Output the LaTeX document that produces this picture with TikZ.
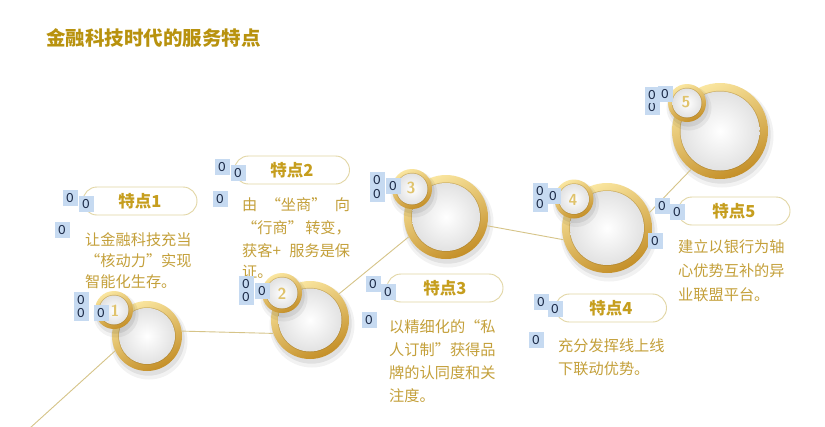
\documentclass[tikz,border=0pt]{standalone}
\usepackage{fontspec}
\newfontfamily\cjk{Noto Sans CJK SC}
\newfontfamily\zfont{Carlito}
\usetikzlibrary{calc}
\definecolor{titlegold}{HTML}{B8920E}
\definecolor{bodygold}{HTML}{C4A03A}
\definecolor{pillgold}{HTML}{C69E1E}
\definecolor{pillline}{HTML}{E2D6A4}
\definecolor{ringlight}{HTML}{FAE6A0}
\definecolor{ringmid}{HTML}{E8C24E}
\definecolor{ringdark}{HTML}{C48F28}
\definecolor{innergray}{HTML}{E2E2E2}
\definecolor{linegold}{HTML}{D6C488}
\definecolor{numgold}{HTML}{E0C36C}
\definecolor{zblue}{HTML}{C6DAF1}
\definecolor{zink}{HTML}{1C2B48}
\tikzset{
  titletxt/.style={anchor=west,inner sep=0,text=titlegold,font=\cjk\bfseries\fontsize{19.5}{20}\selectfont},
  bodytxt/.style={anchor=west,inner sep=0,text=bodygold,font=\cjk\fontsize{15.2}{16}\selectfont},
  pill/.style={draw=pillline,fill=white,line width=0.9pt,rounded corners=14pt,minimum height=28pt,inner sep=0,text=pillgold,font=\cjk\bfseries\fontsize{16.5}{17}\selectfont},
  conn/.style={draw=linegold,line width=0.9pt},
  numtxt/.style={inner sep=0,text=numgold,font=\sffamily\bfseries\fontsize{16}{16}\selectfont},
  zbox/.style={fill=zblue,inner sep=0,minimum width=15pt,minimum height=16pt,text=zink,font=\zfont\fontsize{14}{14}\selectfont},
}
\newcommand\goldring[5]{%
  \begin{scope}[shift={(#2,#3)}]
    \fill[black,opacity=.05] (2,5) circle ({#4pt+3.5pt});
    \fill[black,opacity=.07] (1.5,3.5) circle ({#4pt+1.2pt});
    \node[circle,inner sep=0,minimum size={2*#4pt},top color=ringlight,middle color=ringmid,bottom color=ringdark,shading angle=25] (#1) at (0,0) {};
    \fill[ringdark!70!black,opacity=.35] (0,0) circle ({#4pt-#5pt+0.7pt});
    \shade[inner color=white,outer color=innergray] (0,0) circle ({#4pt-#5pt});
  \end{scope}}
\begin{document}
\begin{tikzpicture}[x=1pt,y=-1pt]
\useasboundingbox (0,0) rectangle (825,426);
\fill[white] (0,0) rectangle (825,426);

% title
\node[titletxt] (title) at (46,38) {金融科技时代的服务特点};

% text blocks
\node[bodytxt] (t1a) at (85,240) {让金融科技充当};
\node[bodytxt] (t1b) at (85,261) {“核动力”实现};
\node[bodytxt] (t1c) at (85,282) {智能化生存。};

\node[bodytxt] (t2a) at (242,205) {\makebox[108pt][s]{由 “坐商” 向}};
\node[bodytxt] (t2b) at (242,228) {\makebox[108pt][s]{“行商” 转变，}};
\node[bodytxt] (t2c) at (242,251) {\makebox[108pt][s]{获客+ 服务是保}};
\node[bodytxt] (t2d) at (242,272) {证。};

\node[bodytxt] (t3a) at (389,327) {以精细化的“私};
\node[bodytxt] (t3b) at (389,350) {人订制”获得品};
\node[bodytxt] (t3c) at (389,373) {牌的认同度和关};
\node[bodytxt] (t3d) at (389,396) {注度。};

\node[bodytxt] (t4a) at (558,346) {充分发挥线上线};
\node[bodytxt] (t4b) at (558,369) {下联动优势。};

\node[bodytxt] (t5a) at (678,247) {建立以银行为轴};
\node[bodytxt] (t5b) at (678,271) {心优势互补的异};
\node[bodytxt] (t5c) at (678,295) {业联盟平台。};

% pills
\node[pill,minimum width=114pt] (p1) at (140,201) {特点1};
\node[pill,minimum width=115pt] (p2) at (292,170) {特点2};
\node[pill,minimum width=116pt] (p3) at (445,288) {特点3};
\node[pill,minimum width=111pt] (p4) at (611,308) {特点4};
\node[pill,minimum width=112pt] (p5) at (734,211) {特点5};

% rings (big)
\goldring{c1}{147}{336}{35}{7}
\goldring{c2}{310}{320}{39}{7.5}
\goldring{c3}{446}{217}{42}{8}
\goldring{c4}{607}{228}{45}{8}
\goldring{c5}{720}{131}{48}{8.5}

% connectors
\coordinate (start) at (30,428);
\draw[conn] (start) -- (c1.205);
\draw[conn] (c1.8) -- (c2.200);
\draw[conn] (c2.42) -- (c3.208);
\draw[conn] (c3.348) -- (c4.195);
\draw[conn] (c4.20) -- (c5.233);

% rings (small)
\goldring{s1}{114}{310}{19}{4.5}
\goldring{s2}{282}{293}{20}{4.5}
\goldring{s3}{412}{189}{20}{4.5}
\goldring{s4}{574}{199}{19.5}{4.5}
\goldring{s5}{687}{103}{19}{4.5}

\node[numtxt] (n1) at (115,311) {1};
\node[numtxt] (n2) at (282,294) {2};
\node[numtxt] (n3) at (411,188) {3};
\node[numtxt] (n4) at (573,200) {4};
\node[numtxt] (n5) at (686,102) {5};

% small "0" boxes
\node[zbox] (z1a) at (70,198) {0};
\node[zbox] (z1b) at (86,204) {0};
\node[zbox] (z1c) at (62,230) {0};
\node[zbox] (z1d) at (81,300) {0};
\node[zbox] (z1e) at (81,313) {0};
\node[zbox] (z1f) at (101,313) {0};

\node[zbox] (z2a) at (222,167) {0};
\node[zbox] (z2b) at (238,173) {0};
\node[zbox] (z2c) at (220,199) {0};
\node[zbox] (z2e) at (246,297) {0};
\node[zbox] (z2d) at (246,284) {0};
\node[zbox] (z2f) at (262,291) {0};

\node[zbox] (z3e) at (377,194) {0};
\node[zbox] (z3d) at (377,180) {0};
\node[zbox] (z3f) at (393,186) {0};
\node[zbox] (z3a) at (373,284) {0};
\node[zbox] (z3b) at (388,292) {0};
\node[zbox] (z3c) at (369,320) {0};

\node[zbox] (z4e) at (540,204) {0};
\node[zbox] (z4d) at (540,191) {0};
\node[zbox] (z4f) at (553,196) {0};
\node[zbox] (z4a) at (541,302) {0};
\node[zbox] (z4b) at (555,309) {0};
\node[zbox] (z4c) at (536,340) {0};

\node[zbox] (z5e) at (652,107) {0};
\node[zbox] (z5d) at (652,95) {0};
\node[zbox] (z5f) at (665,94) {0};
\node[zbox] (z5a) at (662,206) {0};
\node[zbox] (z5b) at (677,212) {0};
\node[zbox] (z5c) at (655,241) {0};
\end{tikzpicture}
\end{document}
